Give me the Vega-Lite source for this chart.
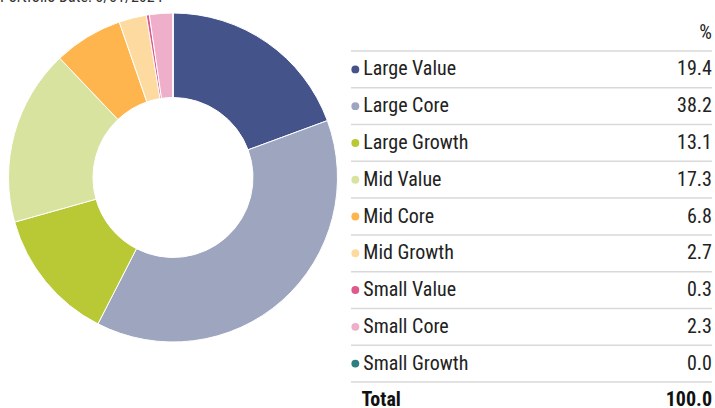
{
  "$schema": "https://vega.github.io/schema/vega-lite/v6.json",
  "padding": {"left": 0, "top": -11, "right": 0, "bottom": 0},
  "background": "white",
  "title": {"text": "Portfolio Date: 3/31/2024", "anchor": "start", "fontSize": 16, "fontWeight": "normal", "color": "#333333", "font": "Roboto Condensed, Roboto, sans-serif", "offset": 2, "frame": "bounds"},
  "datasets": {
    "styles": [
      {"style": "Large Value", "pct": 19.4},
      {"style": "Large Core", "pct": 38.2},
      {"style": "Large Growth", "pct": 13.1},
      {"style": "Mid Value", "pct": 17.3},
      {"style": "Mid Core", "pct": 6.8},
      {"style": "Mid Growth", "pct": 2.7},
      {"style": "Small Value", "pct": 0.3},
      {"style": "Small Core", "pct": 2.3},
      {"style": "Small Growth", "pct": 0.0}
    ]
  },
  "spacing": 4,
  "hconcat": [
    {
      "width": 346,
      "height": 341,
      "data": {"name": "styles"},
      "transform": [{"window": [{"op": "row_number", "as": "rank"}]}],
      "mark": {"type": "arc", "innerRadius": 80, "outerRadius": 164.5, "stroke": "white", "strokeWidth": 1},
      "encoding": {
        "theta": {"field": "pct", "type": "quantitative", "stack": true},
        "order": {"field": "rank", "type": "quantitative"},
        "color": {
          "field": "style", "type": "nominal", "legend": null,
          "scale": {
            "domain": ["Large Value", "Large Core", "Large Growth", "Mid Value", "Mid Core", "Mid Growth", "Small Value", "Small Core", "Small Growth"],
            "range": ["#44538a", "#9ea5bf", "#b8c935", "#d9e3a0", "#ffb54d", "#fddba0", "#df5a8c", "#efafca", "#2e7f80"]
          }
        }
      }
    },
    {
      "width": 361,
      "height": 419,
      "encoding": {
        "y": {
          "field": "style", "type": "nominal", "axis": null,
          "scale": {
            "domain": ["%", "Large Value", "Large Core", "Large Growth", "Mid Value", "Mid Core", "Mid Growth", "Small Value", "Small Core", "Small Growth", "Total"],
            "paddingInner": 0, "paddingOuter": 0.196
          }
        }
      },
      "layer": [
        {
          "data": {"name": "styles"},
          "mark": {"type": "rule", "color": "#d9d9d9", "strokeWidth": 1.5},
          "encoding": {
            "y": {"field": "style", "type": "nominal", "bandPosition": 0, "axis": null},
            "x": {"datum": 0, "type": "quantitative", "scale": {"domain": [0, 100], "nice": false, "zero": false}, "axis": null},
            "x2": {"datum": 100}
          }
        },
        {
          "data": {"name": "styles"},
          "mark": {"type": "point", "filled": true, "shape": "circle", "size": 62, "opacity": 1},
          "encoding": {
            "x": {"datum": 1.2, "type": "quantitative", "axis": null},
            "color": {
              "field": "style", "type": "nominal", "legend": null,
              "scale": {
                "domain": ["Large Value", "Large Core", "Large Growth", "Mid Value", "Mid Core", "Mid Growth", "Small Value", "Small Core", "Small Growth"],
                "range": ["#44538a", "#9ea5bf", "#b8c935", "#d9e3a0", "#ffb54d", "#fddba0", "#df5a8c", "#efafca", "#2e7f80"]
              }
            }
          }
        },
        {
          "data": {"name": "styles"},
          "mark": {"type": "text", "align": "left", "baseline": "middle", "fontSize": 20, "color": "#222222"},
          "encoding": {
            "x": {"datum": 3.4, "type": "quantitative", "axis": null},
            "text": {"field": "style", "type": "nominal"}
          }
        },
        {
          "data": {"name": "styles"},
          "mark": {"type": "text", "align": "right", "baseline": "middle", "fontSize": 20, "color": "#222222"},
          "encoding": {
            "x": {"datum": 100, "type": "quantitative", "axis": null},
            "text": {"field": "pct", "type": "quantitative", "format": ".1f"}
          }
        },
        {
          "data": {"values": [{"style": "%"}]},
          "mark": {"type": "text", "align": "right", "baseline": "middle", "fontSize": 20, "color": "#222222"},
          "encoding": {
            "x": {"datum": 100, "type": "quantitative", "axis": null},
            "text": {"field": "style", "type": "nominal"}
          }
        },
        {
          "data": {"values": [{"style": "Total", "pct": 100.0}]},
          "layer": [
            {
              "mark": {"type": "rule", "color": "#d9d9d9", "strokeWidth": 1.5},
              "encoding": {
                "y": {"field": "style", "type": "nominal", "bandPosition": 0, "axis": null},
                "x": {"datum": 0, "type": "quantitative", "axis": null},
                "x2": {"datum": 100}
              }
            },
            {
              "mark": {"type": "text", "align": "left", "baseline": "middle", "fontSize": 20, "fontWeight": "bold", "color": "#111111"},
              "encoding": {
                "x": {"datum": 2.9, "type": "quantitative", "axis": null},
                "text": {"field": "style", "type": "nominal"}
              }
            },
            {
              "mark": {"type": "text", "align": "right", "baseline": "middle", "fontSize": 20, "fontWeight": "bold", "color": "#111111"},
              "encoding": {
                "x": {"datum": 100, "type": "quantitative", "axis": null},
                "text": {"field": "pct", "type": "quantitative", "format": ".1f"}
              }
            }
          ]
        }
      ]
    }
  ],
  "config": {"view": {"stroke": null}, "font": "Roboto Condensed, Roboto, sans-serif"}
}
